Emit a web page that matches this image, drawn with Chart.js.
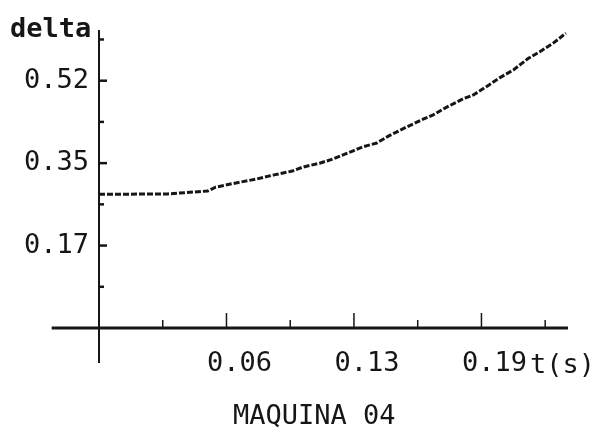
<!DOCTYPE html>
<html>
<head>
<meta charset="utf-8">
<script src="https://cdn.jsdelivr.net/npm/chart.js@4/dist/chart.umd.min.js"></script>
<style>
  html, body { margin: 0; padding: 0; background: #fff; }
  #wrap { width: 603px; height: 434px; }
</style>
</head>
<body>
<div id="wrap"><canvas id="myChart" width="603" height="434"></canvas></div>
<script>
// time (s) and rotor angle delta
var T = [0, 0.034, 0.054, 0.058, 0.068, 0.078, 0.087, 0.096, 0.101, 0.110, 0.116, 0.126, 0.131, 0.138, 0.144, 0.153, 0.161, 0.166, 0.173, 0.181, 0.186, 0.193, 0.199, 0.206, 0.213, 0.219, 0.226, 0.232];
var Delta = [0.281, 0.282, 0.288, 0.296, 0.305, 0.313, 0.322, 0.330, 0.338, 0.347, 0.355, 0.372, 0.381, 0.389, 0.404, 0.423, 0.439, 0.448, 0.465, 0.482, 0.490, 0.509, 0.526, 0.543, 0.566, 0.581, 0.600, 0.620];

// tick labels
var XTicks = [0.0633, 0.1267, 0.19];
var XLabels = ["0.06", "0.13", "0.19"];
var YTicks = [0.1733, 0.3467, 0.52];
var YLabels = ["0.17", "0.35", "0.52"];

var INK = "#161616";
var FONT = "DejaVu Sans Mono";

// axes crossing at the origin, with inward tick marks
var axesPlugin = {
  id: "axes",
  afterDraw: function (chart) {
    var ctx = chart.ctx;
    var xs = chart.scales.x, ys = chart.scales.y;
    var x0 = xs.getPixelForValue(0), y0 = ys.getPixelForValue(0);
    ctx.save();
    ctx.strokeStyle = INK;
    ctx.lineCap = "butt";
    // x axis
    ctx.lineWidth = 3;
    ctx.beginPath();
    ctx.moveTo(xs.getPixelForValue(-0.0235), y0);
    ctx.lineTo(xs.getPixelForValue(0.233), y0);
    ctx.stroke();
    // y axis
    ctx.lineWidth = 2;
    ctx.beginPath();
    ctx.moveTo(x0, ys.getPixelForValue(0.6266));
    ctx.lineTo(x0, ys.getPixelForValue(-0.0736));
    ctx.stroke();
    // x ticks
    ctx.lineWidth = 1.5;
    for (var i = 1; i <= 7; i++) {
      var px = xs.getPixelForValue(i * 0.19 / 6);
      var len = (i % 2 == 0) ? 15 : 8;
      ctx.beginPath();
      ctx.moveTo(px, y0);
      ctx.lineTo(px, y0 - len);
      ctx.stroke();
    }
    // y ticks
    ctx.lineWidth = 2.5;
    for (var j = 1; j <= 7; j++) {
      var py = ys.getPixelForValue(j * 0.52 / 6);
      var ln = (j % 2 == 0) ? 8 : 5;
      ctx.beginPath();
      ctx.moveTo(x0, py);
      ctx.lineTo(x0 + ln, py);
      ctx.stroke();
    }
    // text labels
    ctx.fillStyle = INK;
    ctx.textBaseline = "alphabetic";
    ctx.textAlign = "left";
    ctx.font = "bold 27px '" + FONT + "'";
    ctx.fillText("delta", 10, 37);
    ctx.font = "27px '" + FONT + "'";
    ctx.fillText("t(s)", 530, 373);
    ctx.fillText("MAQUINA 04", 233, 424);
    ctx.restore();
  }
};

var ctx = document.getElementById("myChart");
var myChart = new Chart(ctx, {
  type: "line",
  data: {
    datasets: [{
      data: T.map(function (t, i) { return { x: t, y: Delta[i] }; }),
      borderColor: INK,
      borderWidth: 3,
      borderDash: [6, 2],
      pointRadius: 0,
      tension: 0,
      fill: false,
      clip: false
    }]
  },
  options: {
    responsive: false,
    animation: false,
    layout: { padding: { top: 30, right: 35, left: 0, bottom: 0 } },
    plugins: { legend: { display: false }, tooltip: { enabled: false } },
    scales: {
      x: {
        type: "linear",
        min: 0,
        max: 0.233,
        grid: { display: false, drawTicks: false },
        border: { display: false },
        afterBuildTicks: function (scale) {
          scale.ticks = XTicks.map(function (v) { return { value: v }; });
        },
        afterFit: function (scale) { scale.height = 106; },
        ticks: {
          autoSkip: false,
          maxRotation: 0,
          padding: 20,
          labelOffset: 13,
          color: INK,
          font: { family: FONT, size: 27 },
          callback: function (v) {
            var k = XTicks.indexOf(v);
            return k >= 0 ? XLabels[k] : "";
          }
        }
      },
      y: {
        type: "linear",
        min: 0,
        max: 0.6266,
        grid: { display: false, drawTicks: false },
        border: { display: false },
        afterBuildTicks: function (scale) {
          scale.ticks = YTicks.map(function (v) { return { value: v }; });
        },
        afterFit: function (scale) { scale.width = 99; },
        ticks: {
          autoSkip: false,
          padding: 10,
          color: INK,
          font: { family: FONT, size: 27 },
          callback: function (v) {
            var k = YTicks.indexOf(v);
            return k >= 0 ? YLabels[k] : "";
          }
        }
      }
    }
  },
  plugins: [axesPlugin]
});
</script>
</body>
</html>
